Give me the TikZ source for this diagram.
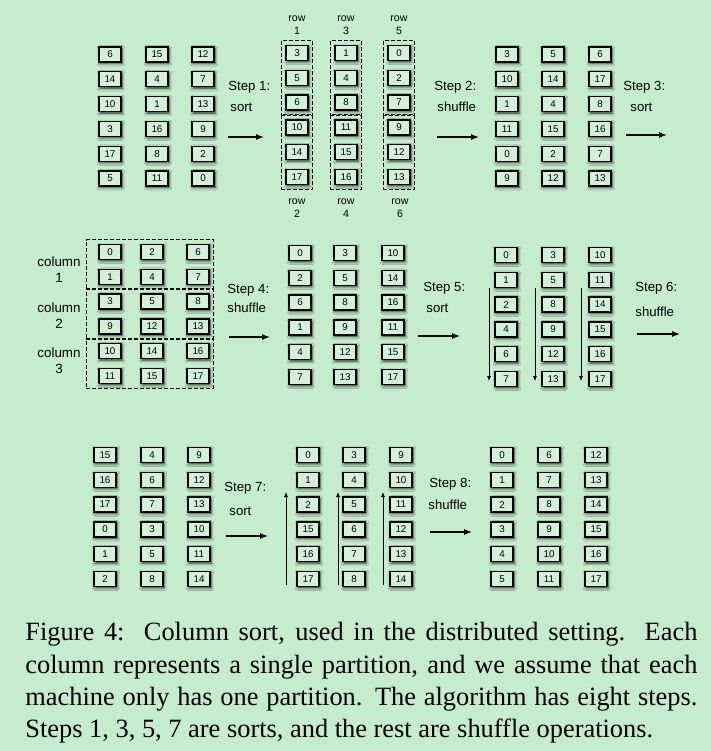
\documentclass[tikz,border=0pt]{standalone}
\usepackage{fontspec}
\setmainfont{Liberation Serif}
\setsansfont{Liberation Sans}
\usetikzlibrary{arrows.meta,fit,shadows.blur}
\definecolor{bgGreen}{RGB}{197,236,205}
\definecolor{cellGreen}{RGB}{210,241,216}
\tikzset{
  cell/.style={draw, line width=0.65pt, fill=cellGreen, minimum width=11pt,
    minimum height=7.5pt, inner sep=0pt, font=\sffamily\fontsize{4.9}{5}\selectfont,
    blur shadow={shadow xshift=0.5pt, shadow yshift=-0.7pt,
      shadow blur radius=1.4pt, shadow opacity=85}},
  group/.style={draw, dash pattern=on 2pt off 1pt, line width=0.6pt},
  steplabel/.style={anchor=west, inner sep=0pt, font=\sffamily\fontsize{6.6}{8}\selectfont},
  steparrow/.style={-{Latex[length=4pt,width=3pt]}, line width=0.6pt},
  sortarrow/.style={-{Latex[length=2.5pt,width=2pt]}, line width=0.35pt},
  rowlabel/.style={align=center, inner sep=0pt, font=\sffamily\fontsize{5.3}{6.5}\selectfont},
  collabel/.style={align=center, inner sep=0pt, font=\sffamily\fontsize{6.7}{8}\selectfont},
  captext/.style={anchor=base west, inner sep=0pt, font=\rmfamily\fontsize{13.2}{16}\selectfont}
}
% one column of six cells: name, x, top y, values
\newcommand\cellcol[4]{\foreach \v [count=\r] in {#4} {\node[cell] (#1_\r) at (#2,{#3+(\r-1)*24.8}) {\v};}}
\begin{document}
\begin{tikzpicture}[x=0.5pt, y=-0.5pt]
\fill[bgGreen] (0,0) rectangle (711,751);
\useasboundingbox (0,0) rectangle (711,751);

% first row of the figure
\cellcol{G1a}{110}{54.5}{6,14,10,3,17,5}
\cellcol{G1b}{157}{54.5}{15,4,1,16,8,11}
\cellcol{G1c}{203}{54.5}{12,7,13,9,2,0}
\node[steplabel] (L1a) at (228,87) {Step 1:};
\node[steplabel] (L1b) at (230,107) {sort};
\coordinate (S1_a) at (228,137);
\coordinate (S1_b) at (264,137);
\draw[steparrow] (S1_a) -- (S1_b);

\cellcol{G2a}{297}{53}{3,5,6,10,14,17}
\cellcol{G2b}{346}{53}{1,4,8,11,15,16}
\cellcol{G2c}{399}{53}{0,2,7,9,12,13}
\node[group, inner xsep=2pt, inner ysep=2.3pt, fit=(G2a_1)(G2a_3)] (R1) {};
\node[group, inner xsep=2pt, inner ysep=2.3pt, fit=(G2a_4)(G2a_6)] (R2) {};
\node[group, inner xsep=2pt, inner ysep=2.3pt, fit=(G2b_1)(G2b_3)] (R3) {};
\node[group, inner xsep=2pt, inner ysep=2.3pt, fit=(G2b_4)(G2b_6)] (R4) {};
\node[group, inner xsep=2pt, inner ysep=2.3pt, fit=(G2c_1)(G2c_3)] (R5) {};
\node[group, inner xsep=2pt, inner ysep=2.3pt, fit=(G2c_4)(G2c_6)] (R6) {};
\node[rowlabel] (T1) at (297,25.5) {row\\1};
\node[rowlabel] (T3) at (346,25.5) {row\\3};
\node[rowlabel] (T5) at (399,25.5) {row\\5};
\node[rowlabel] (T2) at (297,208.5) {row\\2};
\node[rowlabel] (T4) at (346,208.5) {row\\4};
\node[rowlabel] (T6) at (400,208.5) {row\\6};

\node[steplabel] (L2a) at (434,87) {Step 2:};
\node[steplabel] (L2b) at (437,107) {shuffle};
\coordinate (S2_a) at (437,137);
\coordinate (S2_b) at (479,137);
\draw[steparrow] (S2_a) -- (S2_b);

\cellcol{G3a}{507}{54.5}{3,10,1,11,0,9}
\cellcol{G3b}{553}{54.5}{5,14,4,15,2,12}
\cellcol{G3c}{600}{54.5}{6,17,8,16,7,13}
\node[steplabel] (L3a) at (623,87) {Step 3:};
\node[steplabel] (L3b) at (630,107) {sort};
\coordinate (S3_a) at (626,135);
\coordinate (S3_b) at (667,135);
\draw[steparrow] (S3_a) -- (S3_b);

% second row of the figure
\cellcol{G4a}{110}{252}{0,1,3,9,10,11}
\cellcol{G4b}{152}{252}{2,4,5,12,14,15}
\cellcol{G4c}{198}{252}{6,7,8,13,16,17}
\node[group, inner xsep=4pt, inner ysep=2pt, xshift=-2pt, fit=(G4a_1)(G4c_2)] (C1) {};
\node[group, inner xsep=4pt, inner ysep=2pt, xshift=-2pt, fit=(G4a_3)(G4c_4)] (C2) {};
\node[group, inner xsep=4pt, inner ysep=2pt, xshift=-2pt, fit=(G4a_5)(G4c_6)] (C3) {};
\node[collabel] (K1) at (59,270) {column\\1};
\node[collabel] (K2) at (59,315.5) {column\\2};
\node[collabel] (K3) at (59,361) {column\\3};

\node[steplabel] (L4a) at (227,290) {Step 4:};
\node[steplabel] (L4b) at (227,308) {shuffle};
\coordinate (S4_a) at (229,337);
\coordinate (S4_b) at (270,337);
\draw[steparrow] (S4_a) -- (S4_b);

\cellcol{G5a}{300}{253}{0,2,6,1,4,7}
\cellcol{G5b}{345}{253}{3,5,8,9,12,13}
\cellcol{G5c}{393}{253}{10,14,16,11,15,17}
\node[steplabel] (L5a) at (423,288) {Step 5:};
\node[steplabel] (L5b) at (426,308) {sort};
\coordinate (S5_a) at (418,336);
\coordinate (S5_b) at (460,336);
\draw[steparrow] (S5_a) -- (S5_b);

\cellcol{G6a}{506}{255}{0,1,2,4,6,7}
\cellcol{G6b}{553}{255}{3,5,8,9,12,13}
\cellcol{G6c}{600}{255}{10,11,14,15,16,17}
\coordinate (D1_a) at (489,288);
\coordinate (D1_b) at (489,381);
\coordinate (D2_a) at (535,288);
\coordinate (D2_b) at (535,381);
\coordinate (D3_a) at (581,288);
\coordinate (D3_b) at (581,381);
\draw[sortarrow] (D1_a) -- (D1_b);
\draw[sortarrow] (D2_a) -- (D2_b);
\draw[sortarrow] (D3_a) -- (D3_b);
\node[steplabel] (L6a) at (635,288) {Step 6:};
\node[steplabel] (L6b) at (635,312) {shuffle};
\coordinate (S6_a) at (637,334);
\coordinate (S6_b) at (680,334);
\draw[steparrow] (S6_a) -- (S6_b);

% third row of the figure
\cellcol{G7a}{105}{455}{15,16,17,0,1,2}
\cellcol{G7b}{152}{455}{4,6,7,3,5,8}
\cellcol{G7c}{199}{455}{9,12,13,10,11,14}
\node[steplabel] (L7a) at (224,488) {Step 7:};
\node[steplabel] (L7b) at (229,511) {sort};
\coordinate (S7_a) at (226,536);
\coordinate (S7_b) at (268,536);
\draw[steparrow] (S7_a) -- (S7_b);

\cellcol{G8a}{308}{455}{0,1,2,15,16,17}
\cellcol{G8b}{354}{455}{3,4,5,6,7,8}
\cellcol{G8c}{401}{455}{9,10,11,12,13,14}
\coordinate (U1_a) at (286,585);
\coordinate (U1_b) at (286,492);
\coordinate (U2_a) at (338,585);
\coordinate (U2_b) at (338,492);
\coordinate (U3_a) at (383,585);
\coordinate (U3_b) at (383,492);
\draw[sortarrow] (U1_a) -- (U1_b);
\draw[sortarrow] (U2_a) -- (U2_b);
\draw[sortarrow] (U3_a) -- (U3_b);
\node[steplabel] (L8a) at (429,484) {Step 8:};
\node[steplabel] (L8b) at (428,505) {shuffle};
\coordinate (S8_a) at (430,532);
\coordinate (S8_b) at (472,532);
\draw[steparrow] (S8_a) -- (S8_b);

\cellcol{G9a}{502}{455}{0,1,2,3,4,5}
\cellcol{G9b}{549}{455}{6,7,8,9,10,11}
\cellcol{G9c}{596}{455}{12,13,14,15,16,17}

% caption
\node[captext] (cap1) at (25,640) {\makebox[336pt][s]{Figure 4:\ \ Column sort, used in the distributed setting.\ \ Each}};
\node[captext] (cap2) at (25,673) {\makebox[336pt][s]{column represents a single partition, and we assume that each}};
\node[captext] (cap3) at (25,705) {\makebox[336pt][s]{machine only has one partition. The algorithm has eight steps.}};
\node[captext] (cap4) at (25,737) {Steps 1, 3, 5, 7 are sorts, and the rest are shuffle operations.};
\end{tikzpicture}
\end{document}
